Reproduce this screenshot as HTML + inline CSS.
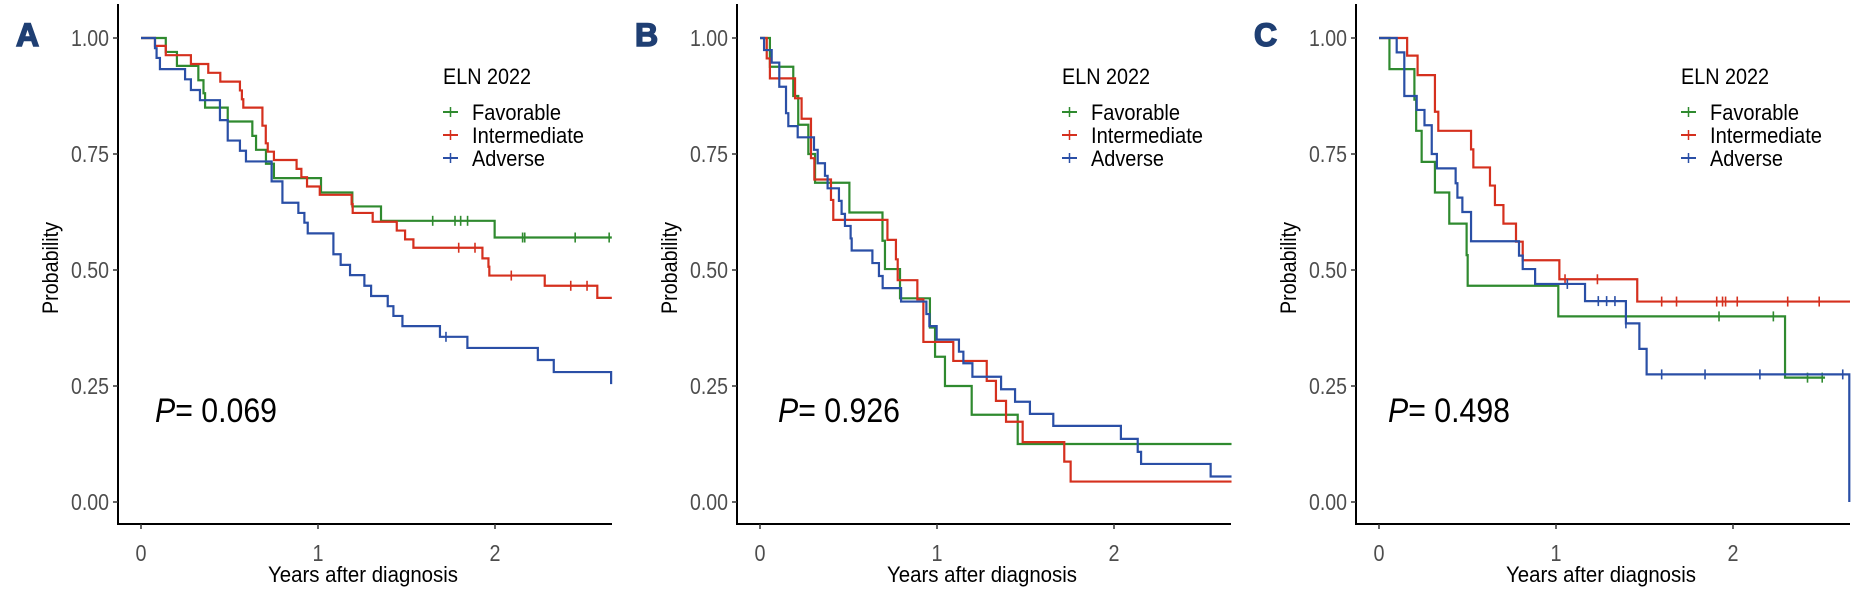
<!DOCTYPE html>
<html><head><meta charset="utf-8">
<style>
html,body{margin:0;padding:0;background:#fff;}
svg{display:block;font-family:"Liberation Sans",Arial,sans-serif;}
</style></head>
<body>
<svg id="chart" width="1867" height="601" viewBox="0 0 1867 601" xmlns="http://www.w3.org/2000/svg"></svg>
<script>
// ---- Data: Panel A ----
const tA_fav = [0.14,0.203,0.324,0.353,0.362,0.49,0.629,0.65,0.706,0.751,1.017,1.194,1.356,1.998];
const sA_fav = [0.970,0.940,0.909,0.881,0.850,0.820,0.789,0.759,0.729,0.698,0.667,0.637,0.606,0.570];
const cA_fav = [1.648,1.774,1.806,1.845,2.156,2.168,2.453,2.645];
const tA_int = [0.079,0.14,0.282,0.380,0.448,0.559,0.57,0.578,0.686,0.705,0.716,0.751,0.879,0.906,0.938,1.010,1.190,1.196,1.309,1.445,1.492,1.539,1.929,1.963,1.968,2.281,2.578];
const sA_int = [0.983,0.963,0.944,0.925,0.906,0.887,0.868,0.850,0.811,0.773,0.755,0.737,0.718,0.700,0.680,0.662,0.642,0.623,0.604,0.585,0.566,0.548,0.525,0.507,0.488,0.466,0.440];
const cA_int = [1.795,1.887,2.092,2.428,2.520];
const tA_adv = [0.079,0.088,0.107,0.249,0.282,0.333,0.446,0.490,0.559,0.593,0.738,0.799,0.889,0.923,0.942,1.087,1.128,1.181,1.262,1.300,1.394,1.426,1.477,1.689,1.844,2.242,2.332,2.656];
const sA_adv = [0.978,0.957,0.933,0.911,0.888,0.866,0.823,0.779,0.757,0.734,0.691,0.645,0.623,0.602,0.579,0.534,0.511,0.489,0.466,0.444,0.422,0.401,0.379,0.356,0.332,0.306,0.280,0.254];
const cA_adv = [1.723];
// ---- Data: Panel B ----
const tB_fav = [0.056,0.188,0.216,0.273,0.311,0.505,0.692,0.706,0.791,0.960,0.989,1.045,1.196,1.456];
const sB_fav = [0.938,0.875,0.813,0.750,0.688,0.624,0.563,0.502,0.439,0.376,0.313,0.250,0.188,0.125];
const cB_fav = [];
const tB_int = [0.038,0.056,0.198,0.235,0.288,0.307,0.401,0.414,0.720,0.768,0.778,0.889,0.923,1.092,1.281,1.333,1.390,1.484,1.719,1.755];
const sB_int = [0.956,0.913,0.870,0.826,0.741,0.695,0.651,0.608,0.565,0.523,0.478,0.437,0.345,0.304,0.261,0.218,0.173,0.129,0.087,0.044];
const cB_int = [];
const tB_adv = [0.023,0.066,0.109,0.147,0.160,0.213,0.305,0.326,0.367,0.382,0.446,0.461,0.480,0.512,0.518,0.635,0.672,0.693,0.797,0.94,0.957,0.998,1.124,1.149,1.200,1.362,1.441,1.525,1.657,2.039,2.134,2.153,2.546];
const sB_adv = [0.974,0.947,0.895,0.838,0.810,0.786,0.759,0.730,0.703,0.676,0.649,0.621,0.595,0.568,0.542,0.515,0.487,0.461,0.432,0.405,0.379,0.350,0.324,0.299,0.270,0.243,0.216,0.190,0.164,0.136,0.108,0.082,0.055];
const cB_adv = [];
// ---- Data: Panel C ----
const tC_fav = [0.059,0.200,0.210,0.241,0.316,0.397,0.495,0.501,1.013,2.294];
const sC_fav = [0.933,0.867,0.800,0.733,0.667,0.600,0.532,0.466,0.400,0.268];
const cC_fav = [1.921,2.228,2.421,2.504];
const tC_int = [0.159,0.218,0.316,0.335,0.520,0.533,0.627,0.655,0.703,0.774,0.812,1.019,1.459];
const sC_int = [0.962,0.920,0.841,0.800,0.760,0.721,0.682,0.640,0.600,0.561,0.521,0.480,0.432];
const cC_int = [1.051,1.234,1.597,1.681,1.908,1.941,1.958,2.024,2.309,2.487];
const tC_adv = [0.100,0.143,0.213,0.257,0.298,0.327,0.433,0.443,0.471,0.520,0.791,0.812,0.882,1.164,1.395,1.471,1.512,2.657];
const sC_adv = [0.969,0.875,0.845,0.812,0.750,0.719,0.687,0.656,0.625,0.562,0.531,0.502,0.470,0.433,0.385,0.330,0.275,0.0];
const cC_adv = [1.064,1.239,1.286,1.333,1.395,1.597,1.842,2.152,2.620];
const xTicks = [0,1,2];
const yTicks = [0,0.25,0.5,0.75,1];
const yTickLabels = ["0.00","0.25","0.50","0.75","1.00"];
const groupNames = ["Favorable","Intermediate","Adverse"];
const pValues = ["0.069","0.926","0.498"];
const panelLetters = ["A","B","C"];

const COLORS = ["#2f8a2f","#d5301e","#2a4fa6"];
const NS = "http://www.w3.org/2000/svg";
const svg = document.getElementById('chart');
function el(tag, attrs, parent, text){
  const e = document.createElementNS(NS, tag);
  for (const k in attrs) e.setAttribute(k, attrs[k]);
  if (text !== undefined) e.textContent = text;
  (parent||svg).appendChild(e);
  return e;
}
const panels = [
  {axis:118, pdx:37, series:[[tA_fav,sA_fav,cA_fav,2.66],[tA_int,sA_int,cA_int,2.66],[tA_adv,sA_adv,cA_adv,2.656]]},
  {axis:737, pdx:41, series:[[tB_fav,sB_fav,cB_fav,2.664],[tB_int,sB_int,cB_int,2.664],[tB_adv,sB_adv,cB_adv,2.664]]},
  {axis:1356, pdx:32, series:[[tC_fav,sC_fav,cC_fav,2.52],[tC_int,sC_int,cC_int,2.661],[tC_adv,sC_adv,cC_adv,2.657]]}
];
const Y0 = 502, YPX = 464, XPX = 177, XAXIS_Y = 524;
const yS = v => Y0 - v*YPX;

panels.forEach((p, pi) => {
  const g = el('g', {});
  
  
  const x0 = p.axis + 23;
  const xS = t => x0 + t*XPX;
  const right = p.axis + 494;
  const L = el('text', {x:p.axis-102, y:46, 'font-size':32, 'font-weight':'bold', fill:'#1f3f73', stroke:'#1f3f73', 'stroke-width':1.5}, g, panelLetters[pi]);
  
  
  const ya = el('line', {x1:p.axis, y1:4, x2:p.axis, y2:XAXIS_Y+1, stroke:'#000', 'stroke-width':2}, g);
  
  
  const xa = el('line', {x1:p.axis-1, y1:XAXIS_Y, x2:right, y2:XAXIS_Y, stroke:'#000', 'stroke-width':2}, g);
  
  
  yTicks.forEach((v, i) => {
    el('line', {x1:p.axis-5, y1:yS(v), x2:p.axis, y2:yS(v), stroke:'#333', 'stroke-width':1.5}, g);
    const t = el('text', {x:p.axis-9, y:yS(v)+8, 'font-size':23, fill:'#4d4d4d', 'text-anchor':'end', textLength:38, lengthAdjust:'spacingAndGlyphs'}, g, yTickLabels[i]);
    
    
  });
  xTicks.forEach(v => {
    el('line', {x1:xS(v), y1:XAXIS_Y, x2:xS(v), y2:XAXIS_Y+5, stroke:'#333', 'stroke-width':1.5}, g);
    const t = el('text', {x:xS(v), y:561, 'font-size':23, fill:'#4d4d4d', 'text-anchor':'middle', textLength:11, lengthAdjust:'spacingAndGlyphs'}, g, String(v));
    
    
  });
  const xt = el('text', {x:p.axis+245, y:582, 'font-size':22, fill:'#000', 'text-anchor':'middle', textLength:190, lengthAdjust:'spacingAndGlyphs'}, g, 'Years after diagnosis');
  
  
  const yt = el('text', {x:0, y:0, 'font-size':22, fill:'#000', 'text-anchor':'middle', textLength:92, lengthAdjust:'spacingAndGlyphs', transform:`translate(${p.axis-60},268) rotate(-90)`}, g, 'Probability');
  
  
  p.series.forEach((s, si) => {
    const [ts, ss, cs, tend] = s;
    let d = `M${xS(0)},${yS(1)}`;
    ts.forEach((t, i) => { d += ` H${xS(t)} V${yS(ss[i])}`; });
    if (tend > ts[ts.length-1]) d += ` H${xS(tend)}`;
    const path = el('path', {d:d, fill:'none', stroke:COLORS[si], 'stroke-width':2.2}, g);
    
    
    cs.forEach(c => {
      let v = 1;
      ts.forEach((t, i) => { if (t <= c) v = ss[i]; });
      const m = el('line', {x1:xS(c), y1:yS(v)-5, x2:xS(c), y2:yS(v)+5, stroke:COLORS[si], 'stroke-width':1.6}, g);
      
      
    });
  });
  const lx = p.axis + 325;
  const lt = el('text', {x:lx, y:84, 'font-size':22, fill:'#000', textLength:88, lengthAdjust:'spacingAndGlyphs'}, g, 'ELN 2022');
  
  
  const widths = [89,112,73];
  groupNames.forEach((n, i) => {
    const cy = 112 + i*23;
    const lg = el('g', {}, g);
    
    
    el('line', {x1:lx, y1:cy, x2:lx+15, y2:cy, stroke:COLORS[i], 'stroke-width':2}, lg);
    el('line', {x1:lx+7.5, y1:cy-5, x2:lx+7.5, y2:cy+5, stroke:COLORS[i], 'stroke-width':1.5}, lg);
    el('text', {x:lx+29, y:cy+8, 'font-size':22, fill:'#000', textLength:widths[i], lengthAdjust:'spacingAndGlyphs'}, lg, n);
  });
  const pt = el('text', {x:p.axis+p.pdx, y:422, 'font-size':34, fill:'#000', textLength:122, lengthAdjust:'spacingAndGlyphs'}, g);
  
  
  el('tspan', {'font-style':'italic'}, pt, 'P');
  el('tspan', {}, pt, '= ' + pValues[pi]);
});
</script>
</body></html>
